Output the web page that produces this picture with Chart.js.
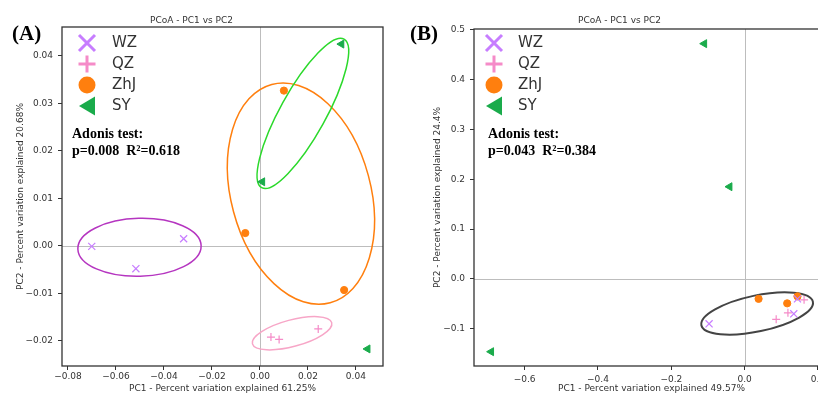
<!DOCTYPE html>
<html>
<head>
<meta charset="utf-8">
<script src="https://cdn.jsdelivr.net/npm/chart.js@4.4.0/dist/chart.umd.min.js"></script>
<style>
    html, body { margin: 0; padding: 0; background: #fff; overflow: hidden; width: 818px; height: 394px; position: relative; }
    #wrapA { position: absolute; left: 0; top: 0; width: 400px; height: 394px; }
    #wrapB { position: absolute; left: 410px; top: 0; width: 430px; height: 394px; }
    .panel { position: absolute; font-family: 'Liberation Serif', 'Times New Roman', serif; font-weight: bold; font-size: 21px; line-height: 24px; color: #000; z-index: 2; }
    .adonis { position: absolute; font-family: 'Liberation Serif', 'Times New Roman', serif; font-weight: bold; font-size: 14px; line-height: 17px; color: #000; z-index: 2; white-space: pre; }
</style>
</head>
<body>
<div id="wrapA"><canvas id="chartA"></canvas></div>
<div id="wrapB"><canvas id="chartB"></canvas></div>
<div class="panel" style="left:12px;top:21px;">(A)</div>
<div class="panel" style="left:410px;top:21px;">(B)</div>
<div class="adonis" style="left:72px;top:125px;">Adonis test:<br>p=0.008  R²=0.618</div>
<div class="adonis" style="left:488px;top:125px;">Adonis test:<br>p=0.043  R²=0.384</div>
<script>
'use strict';

// Groups and styles
const GROUPS = ['WZ', 'QZ', 'ZhJ', 'SY'];
const COLORS = ['#c77dff', '#f58bc8', '#ff7f0e', '#1aab4b'];
const SHAPES = ['crossRot', 'cross', 'circle', 'triangle'];

// Panel A - point coordinates (WZ, QZ, ZhJ, SY)
const A_WZ_X = [-0.0701, -0.0517, -0.0318];
const A_WZ_Y = [-0.0001, -0.0048, 0.0015];
const A_QZ_X = [0.0046, 0.0080, 0.0243];
const A_QZ_Y = [-0.0192, -0.0197, -0.0175];
const A_ZHJ_X = [-0.0061, 0.0100, 0.0351];
const A_ZHJ_Y = [0.0027, 0.0327, -0.0093];
const A_SY_X = [0.0010, 0.0340, 0.0449];
const A_SY_Y = [0.0135, 0.0425, -0.0217];

// Panel B - point coordinates
const B_WZ_X = [-0.097, 0.134, 0.144];
const B_WZ_Y = [-0.090, -0.070, -0.040];
const B_QZ_X = [0.086, 0.118, 0.162];
const B_QZ_Y = [-0.081, -0.068, -0.042];
const B_ZHJ_X = [0.038, 0.116, 0.144];
const B_ZHJ_Y = [-0.040, -0.049, -0.035];
const B_SY_X = [-0.110, -0.041, -0.691];
const B_SY_Y = [0.472, 0.185, -0.146];

// Confidence ellipses: centre, semi-major (x units), semi-minor (y units), angle in degrees
const ELL_A_CX = [-0.0502, 0.0134, 0.0171, 0.0179];
const ELL_A_CY = [-0.0003, -0.0184, 0.0110, 0.0279];
const ELL_A_RX = [0.0257, 0.0171, 0.0471, 0.0354];
const ELL_A_RY = [0.0061, 0.0028, 0.0147, 0.0048];
const ELL_A_ROT = [1.5, 15, 105, 61];
const ELL_A_COLORS = ['#b535c0', '#f7a6c7', '#ff7f0e', '#2bd92b'];

const ELL_B_CX = [0.034];
const ELL_B_CY = [-0.0693];
const ELL_B_RX = [0.1554];
const ELL_B_RY = [0.0361];
const ELL_B_ROT = [12];
const ELL_B_COLORS = ['#444444'];

// Axis ticks
const A_X_TICKS = [-0.08, -0.06, -0.04, -0.02, 0.00, 0.02, 0.04];
const A_Y_TICKS = [-0.02, -0.01, 0.00, 0.01, 0.02, 0.03, 0.04];
const B_X_TICKS = [-0.6, -0.4, -0.2, 0.0, 0.2];
const B_Y_TICKS = [-0.1, 0.0, 0.1, 0.2, 0.3, 0.4, 0.5];

Chart.defaults.font.family = "'DejaVu Sans', sans-serif";
Chart.defaults.color = '#333';

/**
 * Format a tick value the matplotlib way (unicode minus)
 */
function fmt(v, digits) {
    const s = Math.abs(v).toFixed(digits);
    return (v < -1e-12 ? '\u2212' : '') + s;
}

/**
 * Build scatter datasets from x / y lists
 */
function buildDatasets(xs, ys) {
    return GROUPS.map(function(g, i) {
        return {
            label: g,
            data: xs[i].map(function(x, j) { return {x: x, y: ys[i][j]}; }),
            pointStyle: SHAPES[i],
            pointRotation: i === 3 ? -90 : 0,
            pointRadius: [5, 4, 3.6, 4.6][i],
            borderWidth: i < 2 ? 1.2 : 1,
            borderColor: COLORS[i],
            backgroundColor: COLORS[i]
        };
    });
}

/**
 * Draw one big legend marker
 */
function drawLegendMarker(ctx, shape, x, y, color) {
    ctx.save();
    ctx.strokeStyle = color;
    ctx.fillStyle = color;
    ctx.lineWidth = 3;
    ctx.beginPath();
    if (shape === 'crossRot') {
        const h = 8;
        ctx.moveTo(x - h, y - h); ctx.lineTo(x + h, y + h);
        ctx.moveTo(x - h, y + h); ctx.lineTo(x + h, y - h);
        ctx.stroke();
    } else if (shape === 'cross') {
        const h = 8.5;
        ctx.moveTo(x - h, y); ctx.lineTo(x + h, y);
        ctx.moveTo(x, y - h); ctx.lineTo(x, y + h);
        ctx.stroke();
    } else if (shape === 'circle') {
        ctx.arc(x, y, 8.5, 0, Math.PI * 2);
        ctx.fill();
    } else {
        ctx.moveTo(x - 8, y); ctx.lineTo(x + 8, y - 9.5); ctx.lineTo(x + 8, y + 9.5);
        ctx.closePath();
        ctx.fill();
    }
    ctx.restore();
}

// Ellipses, frame, zero lines and inside legend
const pcoaPlugin = {
    id: 'pcoa',
    beforeDatasetsDraw(chart, args, opts) {
        const ctx = chart.ctx;
        const xs = chart.scales.x;
        const ys = chart.scales.y;
        const area = chart.chartArea;
        ctx.save();
        ctx.beginPath();
        ctx.rect(area.left, area.top, area.right - area.left, area.bottom - area.top);
        ctx.clip();
        // zero lines
        ctx.strokeStyle = '#bdbdbd';
        ctx.lineWidth = 1;
        ctx.beginPath();
        const x0 = Math.round(xs.getPixelForValue(0)) + 0.5;
        const y0 = Math.round(ys.getPixelForValue(0)) + 0.5;
        ctx.moveTo(x0, area.top); ctx.lineTo(x0, area.bottom);
        ctx.moveTo(area.left, y0); ctx.lineTo(area.right, y0);
        ctx.stroke();
        // ellipses
        opts.cx.forEach(function(cx, i) {
            const cy = opts.cy[i];
            const px = xs.getPixelForValue(cx);
            const py = ys.getPixelForValue(cy);
            const a = Math.abs(xs.getPixelForValue(cx + opts.rx[i]) - px);
            const b = Math.abs(ys.getPixelForValue(cy + opts.ry[i]) - py);
            ctx.beginPath();
            ctx.ellipse(px, py, a, b, -opts.rot[i] * Math.PI / 180, 0, Math.PI * 2);
            ctx.strokeStyle = opts.colors[i];
            ctx.lineWidth = opts.lineWidth;
            ctx.stroke();
        });
        ctx.restore();
    },
    afterDraw(chart, args, opts) {
        const ctx = chart.ctx;
        const area = chart.chartArea;
        ctx.save();
        ctx.strokeStyle = '#333';
        ctx.lineWidth = 1.3;
        ctx.strokeRect(area.left, area.top, area.right - area.left, area.bottom - area.top);
        // legend
        ctx.font = "15px 'DejaVu Sans', sans-serif";
        ctx.fillStyle = '#333';
        ctx.textBaseline = 'middle';
        chart.data.datasets.forEach(function(ds, i) {
            const y = opts.legendY + i * 21;
            drawLegendMarker(ctx, ds.pointStyle, opts.markerX, y, ds.borderColor);
            ctx.fillStyle = '#333';
            ctx.fillText(ds.label, opts.textX, y);
        });
        ctx.restore();
    }
};

/**
 * Create one PCoA panel
 */
function makePanel(id, p) {
    return new Chart(document.getElementById(id), {
        type: 'scatter',
        data: { datasets: buildDatasets(p.xs, p.ys) },
        plugins: [pcoaPlugin],
        options: {
            responsive: true,
            maintainAspectRatio: false,
            animation: false,
            events: [],
            layout: { padding: { left: 0, right: p.padRight, top: 0, bottom: 0 } },
            plugins: {
                legend: { display: false },
                tooltip: { enabled: false },
                title: {
                    display: true,
                    text: 'PCoA - PC1 vs PC2',
                    font: { size: 9, weight: 'normal' },
                    color: '#333',
                    padding: { top: 15, bottom: p.titleBottom }
                },
                pcoa: p.plugin
            },
            scales: {
                x: {
                    type: 'linear',
                    min: p.xMin,
                    max: p.xMax,
                    afterBuildTicks: function(s) { s.ticks = p.xTicks.map(function(v) { return {value: v}; }); },
                    afterFit: function(s) { s.height = 28; },
                    ticks: {
                        font: { size: 9 },
                        color: '#333',
                        padding: p.xTickPad,
                        maxRotation: 0,
                        autoSkip: false,
                        callback: function(v) { return fmt(v, p.xDigits); }
                    },
                    grid: { drawOnChartArea: false, tickLength: 4, tickColor: '#333' },
                    border: { display: false },
                    title: {
                        display: true,
                        text: p.xTitle,
                        font: { size: 9 },
                        color: '#333',
                        padding: { top: 0, bottom: 0 }
                    }
                },
                y: {
                    type: 'linear',
                    min: p.yMin,
                    max: p.yMax,
                    afterBuildTicks: function(s) { s.ticks = p.yTicks.map(function(v) { return {value: v}; }); },
                    afterFit: function(s) { s.width = p.yWidth; },
                    ticks: {
                        font: { size: 9 },
                        color: '#333',
                        padding: 5,
                        autoSkip: false,
                        callback: function(v) { return fmt(v, p.yDigits); }
                    },
                    grid: { drawOnChartArea: false, tickLength: 4, tickColor: '#333' },
                    border: { display: false },
                    title: {
                        display: true,
                        text: p.yTitle,
                        font: { size: 9 },
                        color: '#333',
                        padding: { top: p.yTitlePad, bottom: 0 }
                    }
                }
            }
        }
    });
}

makePanel('chartA', {
    xs: [A_WZ_X, A_QZ_X, A_ZHJ_X, A_SY_X],
    ys: [A_WZ_Y, A_QZ_Y, A_ZHJ_Y, A_SY_Y],
    xMin: -0.0825, xMax: 0.0513, yMin: -0.0253, yMax: 0.0461,
    xTicks: A_X_TICKS, yTicks: A_Y_TICKS, xDigits: 2, yDigits: 2,
    xTitle: 'PC1 - Percent variation explained 61.25%',
    yTitle: 'PC2 - Percent variation explained 20.68%',
    padRight: 17, yWidth: 62, titleBottom: 1.2, yTitlePad: 15.6, xTickPad: 1.5,
    plugin: {
        cx: ELL_A_CX, cy: ELL_A_CY, rx: ELL_A_RX, ry: ELL_A_RY, rot: ELL_A_ROT,
        colors: ELL_A_COLORS, lineWidth: 1.5,
        markerX: 87, textX: 112, legendY: 43
    }
});

makePanel('chartB', {
    xs: [B_WZ_X, B_QZ_X, B_ZHJ_X, B_SY_X],
    ys: [B_WZ_Y, B_QZ_Y, B_ZHJ_Y, B_SY_Y],
    xMin: -0.738, xMax: 0.23, yMin: -0.1747, yMax: 0.5014,
    xTicks: B_X_TICKS, yTicks: B_Y_TICKS, xDigits: 1, yDigits: 1,
    xTitle: 'PC1 - Percent variation explained 49.57%',
    yTitle: 'PC2 - Percent variation explained 24.4%',
    padRight: 11, yWidth: 64, titleBottom: 3.2, yTitlePad: 22.6, xTickPad: 4,
    plugin: {
        cx: ELL_B_CX, cy: ELL_B_CY, rx: ELL_B_RX, ry: ELL_B_RY, rot: ELL_B_ROT,
        colors: ELL_B_COLORS, lineWidth: 2,
        markerX: 84, textX: 108, legendY: 43
    }
});
</script>
</body>
</html>
